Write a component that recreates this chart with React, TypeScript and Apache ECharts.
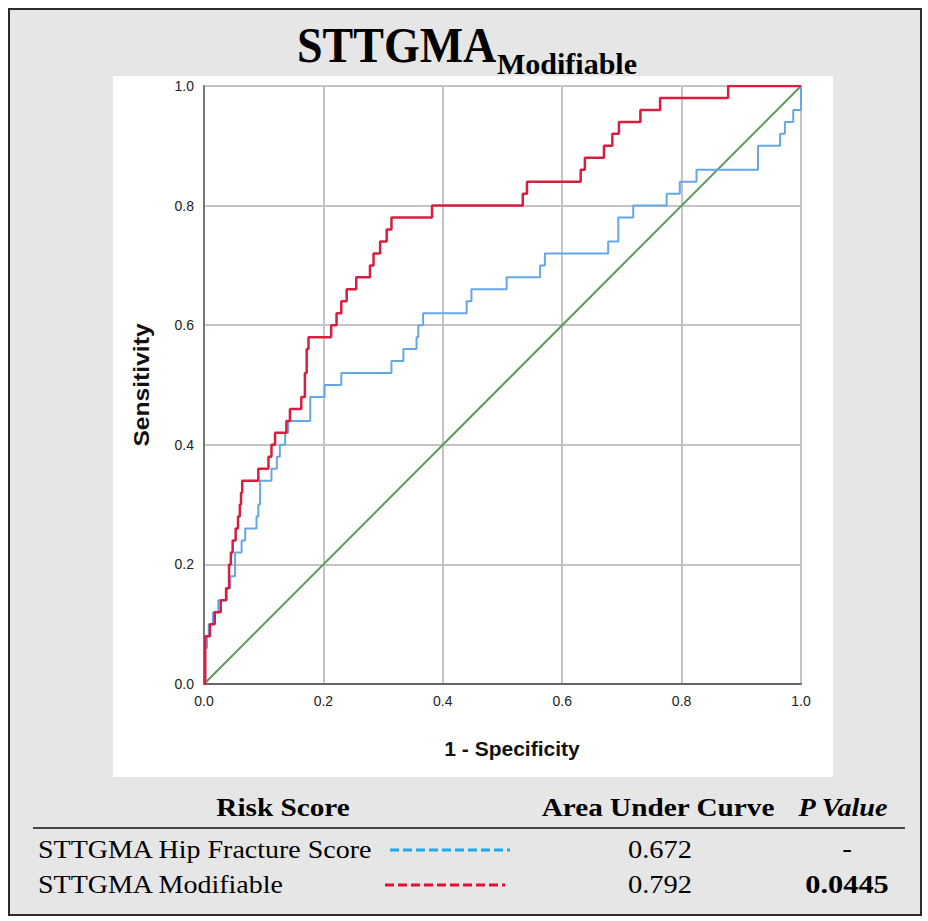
import React, { useEffect, useRef } from "react";
import * as echarts from "echarts";

// Axis ticks
const xTicks = [0, 0.2, 0.4, 0.6, 0.8, 1.0];
const yTicks = [0, 0.2, 0.4, 0.6, 0.8, 1.0];

// STTGMA Modifiable ROC (top of each rise): 1 - specificity, sensitivity
const modFpr = [0, 0.002, 0.010, 0.018, 0.028, 0.037, 0.042, 0.045, 0.048, 0.053, 0.057, 0.060, 0.062, 0.064, 0.091, 0.108, 0.113, 0.119, 0.138, 0.144, 0.163, 0.169, 0.172, 0.175, 0.213, 0.222, 0.230, 0.239, 0.255, 0.278, 0.284, 0.295, 0.306, 0.314, 0.382, 0.534, 0.541, 0.631, 0.638, 0.670, 0.684, 0.695, 0.731, 0.764, 0.878, 1.0];
const modTpr = [0, 0.08, 0.10, 0.12, 0.14, 0.16, 0.20, 0.22, 0.24, 0.26, 0.28, 0.30, 0.32, 0.34, 0.36, 0.38, 0.40, 0.42, 0.44, 0.46, 0.48, 0.52, 0.56, 0.58, 0.60, 0.62, 0.64, 0.66, 0.68, 0.70, 0.72, 0.74, 0.76, 0.78, 0.80, 0.82, 0.84, 0.86, 0.88, 0.90, 0.92, 0.94, 0.96, 0.98, 1.0, 1.0];

// STTGMA Hip Fracture Score ROC
const hipFpr = [0, 0.002, 0.005, 0.008, 0.015, 0.024, 0.038, 0.044, 0.052, 0.063, 0.069, 0.088, 0.091, 0.094, 0.113, 0.122, 0.127, 0.136, 0.141, 0.178, 0.202, 0.230, 0.314, 0.334, 0.356, 0.359, 0.367, 0.440, 0.448, 0.507, 0.563, 0.571, 0.677, 0.694, 0.719, 0.775, 0.797, 0.825, 0.928, 0.965, 0.973, 0.987, 1.0];
const hipTpr = [0, 0.06, 0.08, 0.10, 0.12, 0.14, 0.16, 0.18, 0.22, 0.24, 0.26, 0.28, 0.30, 0.34, 0.36, 0.38, 0.40, 0.42, 0.44, 0.48, 0.50, 0.52, 0.54, 0.56, 0.58, 0.60, 0.62, 0.64, 0.66, 0.68, 0.70, 0.72, 0.74, 0.78, 0.80, 0.82, 0.84, 0.86, 0.90, 0.92, 0.94, 0.96, 1.0];

// Reference line
const refX = [0, 1];
const refY = [0, 1];

// Table
const tableHeaders = ["Risk Score", "Area Under Curve", "P Value"];
const scoreNames = ["STTGMA Hip Fracture Score", "STTGMA Modifiable"];
const aucValues = ["0.672", "0.792"];
const pValues = ["-", "0.0445"];

const RED = "#d61f3f";
const BLUE = "#66a6e6";
const GREEN = "#5a9a5a";

function toSteps(xs: number[], ys: number[]) {
  const pts: number[][] = [[xs[0], ys[0]]];
  for (let i = 1; i < xs.length; i++) {
    pts.push([xs[i], ys[i - 1]]);
    pts.push([xs[i], ys[i]]);
  }
  return pts;
}

export default function App() {
  const ref = useRef<HTMLDivElement>(null);
  useEffect(() => {
    document.body.style.margin = "0";
    const chart = echarts.init(ref.current!, null, { renderer: "svg" });
    const serif = "'Liberation Serif', 'Times New Roman', serif";
    const sans = "'Liberation Sans', Arial, sans-serif";
    const rowY = [850, 885];
    const option: any = {
      animation: false,
      backgroundColor: "#ffffff",
      grid: { left: 204, right: 127, top: 86, bottom: 237 },
      xAxis: {
        type: "value",
        min: 0,
        max: 1,
        interval: 0.2,
        axisLine: { show: true, lineStyle: { color: "#666", width: 2 } },
        axisTick: { show: false },
        splitLine: { show: true, lineStyle: { color: "#c4c4c4", width: 2 } },
        axisLabel: {
          color: "#222",
          fontSize: 14,
          fontFamily: sans,
          margin: 10,
          formatter: (v: number) => (xTicks.includes(Math.round(v * 10) / 10) ? v.toFixed(1) : ""),
        },
      },
      yAxis: {
        type: "value",
        min: 0,
        max: 1,
        interval: 0.2,
        axisLine: { show: true, lineStyle: { color: "#777", width: 2 } },
        axisTick: { show: false },
        splitLine: { show: true, lineStyle: { color: "#c4c4c4", width: 2 } },
        axisLabel: {
          color: "#222",
          fontSize: 14,
          fontFamily: sans,
          margin: 10,
          formatter: (v: number) => (yTicks.includes(Math.round(v * 10) / 10) ? v.toFixed(1) : ""),
        },
      },
      series: [
        {
          type: "line",
          data: refX.map((x, i) => [x, refY[i]]),
          symbol: "none",
          lineStyle: { color: GREEN, width: 2 },
          z: 3,
        },
        {
          type: "line",
          data: toSteps(hipFpr, hipTpr),
          symbol: "none",
          lineStyle: { color: BLUE, width: 2 },
          z: 4,
        },
        {
          type: "line",
          data: toSteps(modFpr, modTpr),
          symbol: "none",
          lineStyle: { color: RED, width: 2.5 },
          z: 5,
        },
      ],
      graphic: [
        // frame
        {
          type: "rect",
          z: -20,
          shape: { x: 9, y: 9, width: 912, height: 906 },
          style: { fill: "#e6e6e6", stroke: "#2a2a2a", lineWidth: 2 },
        },
        {
          type: "rect",
          z: -10,
          shape: { x: 113, y: 76, width: 720, height: 701 },
          style: { fill: "#ffffff" },
        },
        // title
        {
          type: "text",
          z: 10,
          x: 297,
          y: 70,
          scaleX: 0.92,
          style: { text: "STTGMA", font: `bold 50px ${serif}`, fill: "#000", textAlign: "left", textVerticalAlign: "bottom" },
        },
        {
          type: "text",
          z: 10,
          x: 497,
          y: 78,
          scaleX: 1.0,
          style: { text: "Modifiable", font: `bold 30px ${serif}`, fill: "#000", textAlign: "left", textVerticalAlign: "bottom" },
        },
        // axis titles
        {
          type: "text",
          z: 10,
          x: 512,
          y: 748,
          style: { text: "1 - Specificity", font: `bold 21px ${sans}`, fill: "#111", textAlign: "center", textVerticalAlign: "middle" },
        },
        {
          type: "text",
          z: 10,
          x: 141,
          y: 385,
          rotation: Math.PI / 2,
          scaleX: 1.12,
          style: { text: "Sensitivity", font: `bold 22px ${sans}`, fill: "#111", textAlign: "center", textVerticalAlign: "middle" },
        },
        // table headers
        {
          type: "text",
          z: 10,
          x: 283,
          y: 808,
          scaleX: 1.17,
          style: { text: tableHeaders[0], font: `bold 25px ${serif}`, fill: "#000", textAlign: "center", textVerticalAlign: "middle" },
        },
        {
          type: "text",
          z: 10,
          x: 658,
          y: 808,
          scaleX: 1.17,
          style: { text: tableHeaders[1], font: `bold 25px ${serif}`, fill: "#000", textAlign: "center", textVerticalAlign: "middle" },
        },
        {
          type: "text",
          z: 10,
          x: 843,
          y: 808,
          scaleX: 1.13,
          style: { text: tableHeaders[2], font: `italic bold 25px ${serif}`, fill: "#000", textAlign: "center", textVerticalAlign: "middle" },
        },
        {
          type: "line",
          z: 10,
          shape: { x1: 33, y1: 828, x2: 905, y2: 828 },
          style: { stroke: "#111", lineWidth: 1.5 },
        },
        // rows
        ...scoreNames.map((name, i) => ({
          type: "text",
          z: 10,
          x: 38,
          y: rowY[i],
          scaleX: 1.12,
          style: { text: name, font: `25px ${serif}`, fill: "#000", textAlign: "left", textVerticalAlign: "middle" },
        })),
        ...aucValues.map((v, i) => ({
          type: "text",
          z: 10,
          x: 660,
          y: rowY[i],
          scaleX: 1.14,
          style: { text: v, font: `25px ${serif}`, fill: "#000", textAlign: "center", textVerticalAlign: "middle" },
        })),
        ...pValues.map((v, i) => ({
          type: "text",
          z: 10,
          x: 847,
          y: rowY[i] - 1,
          scaleX: 1.17,
          style: { text: v, font: i === 1 ? `bold 26px ${serif}` : `25px ${serif}`, fill: "#000", textAlign: "center", textVerticalAlign: "middle" },
        })),
        {
          type: "line",
          z: 10,
          shape: { x1: 390, y1: 850, x2: 510, y2: 850 },
          style: { stroke: "#1ea8ee", lineWidth: 3, lineDash: [9, 4] },
        },
        {
          type: "line",
          z: 10,
          shape: { x1: 385, y1: 885, x2: 505, y2: 885 },
          style: { stroke: "#e0122f", lineWidth: 3, lineDash: [9, 4] },
        },
      ],
    };
    chart.setOption(option);
    return () => chart.dispose();
  }, []);
  return <div ref={ref} style={{ width: 928, height: 921 }} />;
}
